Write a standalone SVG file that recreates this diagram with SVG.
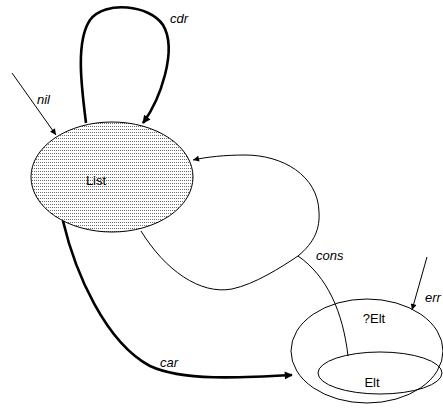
<svg xmlns="http://www.w3.org/2000/svg" width="443" height="411" viewBox="0 0 443 411">
<style>
.edge{fill:none;stroke:#000}
.thin{stroke-width:1}
.thick{stroke-width:2.6}
.lbl{font-family:"Liberation Sans",Arial,sans-serif;font-size:13px;font-style:italic;fill:#000}
.ntxt{font-family:"Liberation Sans",Arial,sans-serif;font-size:13px;fill:#000}
.node{stroke:#000;stroke-width:1}
</style>
<defs>
<pattern id="dots" width="2" height="3" patternUnits="userSpaceOnUse">
<rect width="2" height="3" fill="#ffffff"/>
<rect width="1" height="1" fill="#6a6a6a"/>
</pattern>
<marker id="ahs" viewBox="0 0 10 10" refX="10" refY="5" markerWidth="8" markerHeight="6" markerUnits="userSpaceOnUse" orient="auto">
<path d="M0,0 L10,5 L0,10 z" fill="#000"/>
</marker>
<marker id="ahl" viewBox="0 0 10 10" refX="9" refY="5" markerWidth="12" markerHeight="8" markerUnits="userSpaceOnUse" orient="auto">
<path d="M0,0 L10,5 L0,10 z" fill="#000"/>
</marker>
</defs>
<g id="node-list">
<ellipse class="node" cx="112" cy="177" rx="81" ry="55" fill="url(#dots)"/>
<text class="ntxt" x="96" y="185" text-anchor="middle">List</text>
</g>
<g id="node-qelt">
<ellipse class="node" cx="367" cy="351" rx="76" ry="52" fill="none"/>
<text class="ntxt" x="374" y="323" text-anchor="middle">?Elt</text>
</g>
<g id="node-elt">
<ellipse class="node" cx="380" cy="373" rx="62" ry="21" fill="none"/>
<text class="ntxt" x="372" y="387" text-anchor="middle">Elt</text>
</g>
<g id="connectors">
<path class="edge thick" d="M86,123 C82,90 75,42 90,20 C105,0 150,5 163,25 C178,50 160,100 143,123" marker-end="url(#ahl)"/>
<text class="lbl" x="170" y="23">cdr</text>
<path class="edge thin" d="M12,73 L56,135" marker-end="url(#ahs)"/>
<text class="lbl" x="37" y="104">nil</text>
<path class="edge thin" d="M141,231 C165,270 200,295 232,289 C255,284 280,268 298,256"/>
<path class="edge thin" d="M298,256 C315,242 320,228 319,212 C318,175 282,155 245,155 C225,155 206,157 193,160" marker-end="url(#ahs)"/>
<path class="edge thin" d="M348,356 C343,312 327,276 298,256"/>
<text class="lbl" x="316" y="260">cons</text>
<path class="edge thick" d="M63,221 C75,272 105,342 150,366 C182,381 240,378 292,375" marker-end="url(#ahl)"/>
<text class="lbl" x="160" y="367">car</text>
<path class="edge thin" d="M427,257 L412,310" marker-end="url(#ahs)"/>
<text class="lbl" x="425" y="302">err</text>
</g>
</svg>
